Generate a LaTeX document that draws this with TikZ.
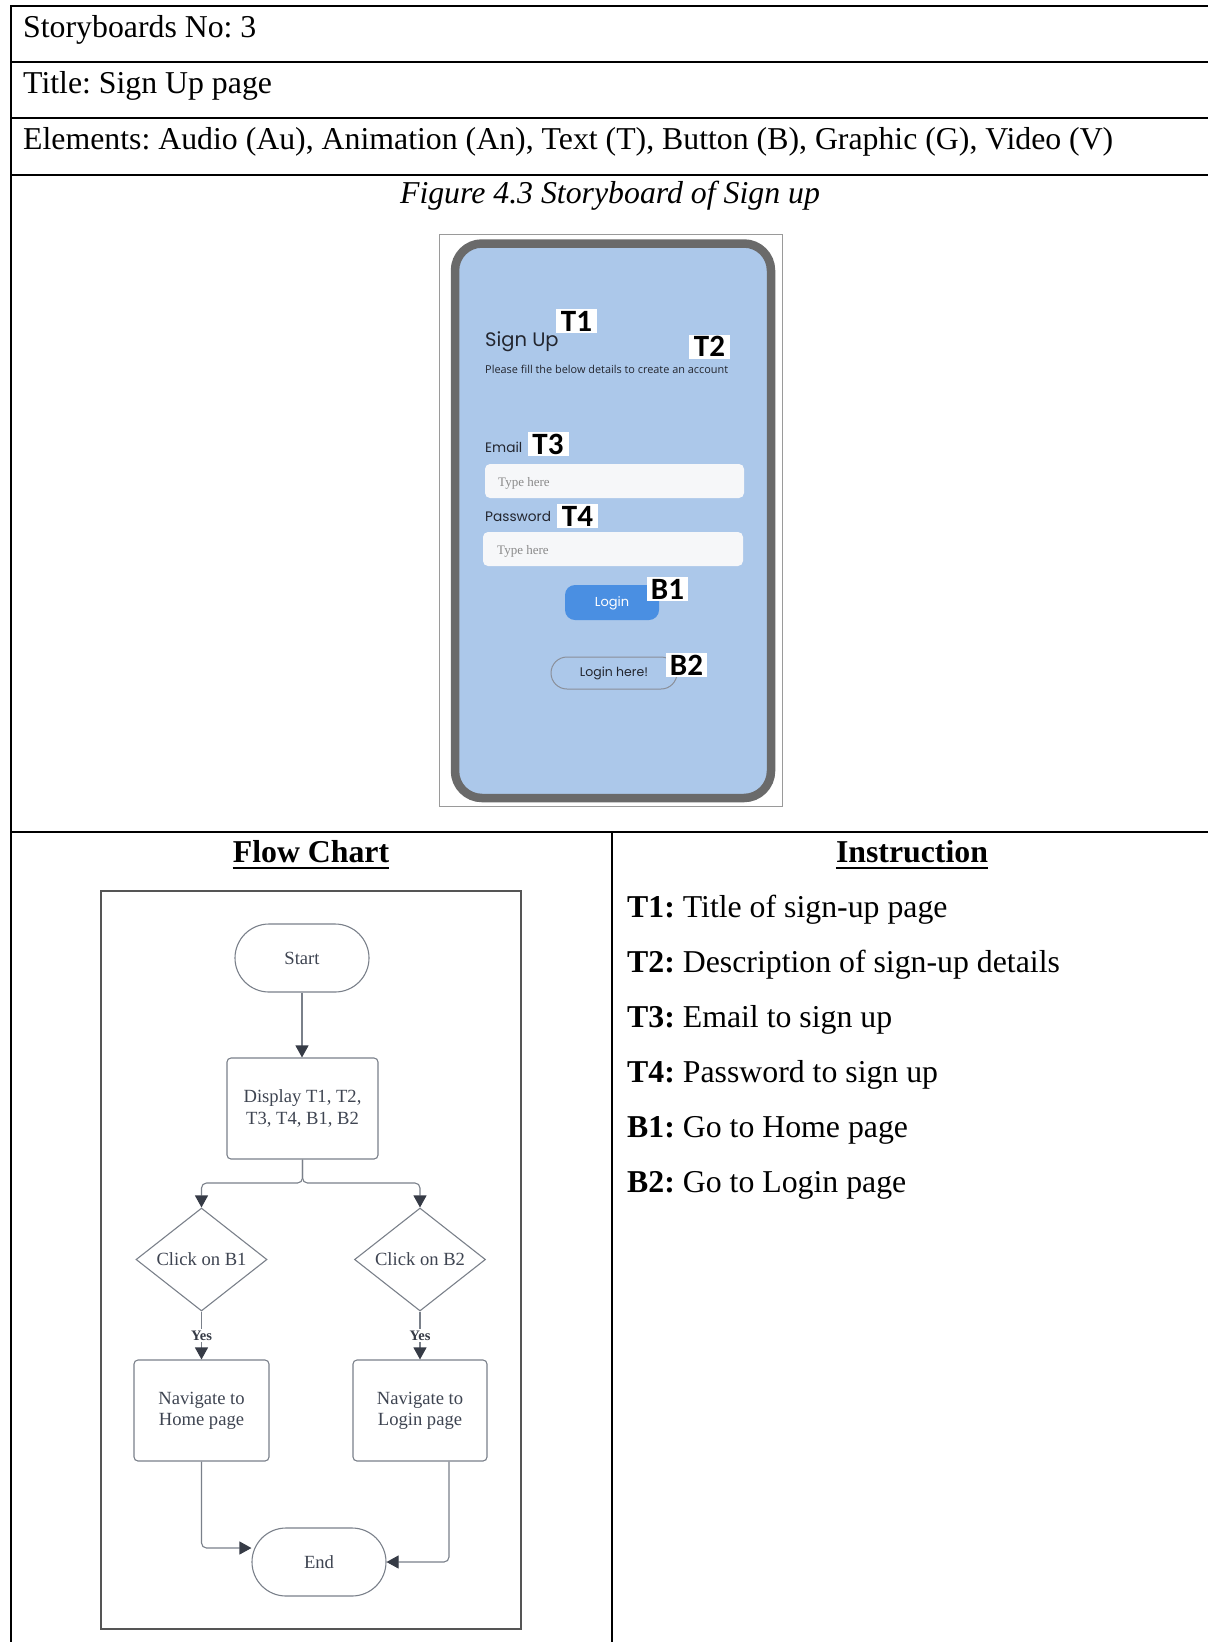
\documentclass[tikz,border=0pt]{standalone}
\usepackage{fontspec}
\setmainfont{Liberation Serif}
\newfontfamily\poppins{Poppins}
\newfontfamily\carlito{Carlito}
\newfontfamily\opensans{Open Sans}
\usetikzlibrary{shapes.geometric,shapes.misc,arrows.meta}
\frenchspacing

\definecolor{screenblue}{HTML}{ACC8EA}
\definecolor{framegray}{HTML}{6A6A6A}
\definecolor{shotborder}{HTML}{9A9A9A}
\definecolor{btnblue}{HTML}{4A8FE2}
\definecolor{fieldbg}{HTML}{F6F7F9}
\definecolor{hintgray}{HTML}{8A8A8A}
\definecolor{uitext}{HTML}{23262F}
\definecolor{pillline}{HTML}{8A8F99}
\definecolor{flowline}{HTML}{7A808A}
\definecolor{flowtext}{HTML}{3E4451}
\definecolor{arrowdark}{HTML}{363B46}
\definecolor{boxline}{HTML}{555555}

\begin{document}
\begin{tikzpicture}[x=1pt,y=-1pt,
  rule/.style={line width=2pt},
  celltext/.style={anchor=base west, inner sep=0pt, font=\fontsize{31.8}{38}\selectfont},
  heading/.style={anchor=base, inner sep=0pt, font=\fontsize{31.8}{38}\selectfont\bfseries},
  uline/.style={line width=2.6pt},
  tag/.style={fill=white, inner sep=0pt, minimum width=41pt, minimum height=24pt,
    font=\carlito\bfseries\fontsize{31}{31}\selectfont},
  uilabel/.style={anchor=base west, inner sep=0pt, text=uitext},
  field/.style={fill=fieldbg, rounded corners=5pt},
  hint/.style={anchor=base west, inner sep=0pt, text=hintgray, font=\fontsize{13}{15}\selectfont},
  fnode/.style={draw=flowline, line width=1.1pt, text=flowtext, align=center, inner sep=0pt,
    font=\fontsize{18.6}{21.3}\selectfont},
  terminal/.style={fnode, rounded rectangle, minimum width=134pt, minimum height=68pt},
  process/.style={fnode, rectangle, rounded corners=4pt, minimum height=101pt},
  decision/.style={fnode, diamond, minimum width=131pt, minimum height=97pt},
  flow/.style={draw=flowline, line width=1.1pt,
    -{Triangle[width=13pt,length=12pt,color=arrowdark]}},
  yeslab/.style={fill=white, inner sep=2pt, text=arrowdark,
    font=\fontsize{14.5}{14.5}\selectfont\bfseries}
]
\useasboundingbox (0,0) rectangle (1208,1642);

% ---------- table rules ----------
\draw[rule] (10,6) -- (1208,6);
\draw[rule] (10,62) -- (1208,62);
\draw[rule] (10,118) -- (1208,118);
\draw[rule] (10,175) -- (1208,175);
\draw[rule] (10,832) -- (1208,832);
\draw[rule] (11,5) -- (11,1642);
\draw[rule] (612,832) -- (612,1642);

% ---------- header rows ----------
\node[celltext] (rowno) at (23,37) {Storyboards No: 3};
\node[celltext] (rowtitle) at (23,93) {Title: Sign Up page};
\node[celltext] (rowelem) at (23,149) {Elements: Audio (Au), Animation (An), Text (T), Button (B), Graphic (G), Video (V)};
\node[anchor=base, inner sep=0pt, font=\fontsize{31.8}{38}\selectfont\itshape] (caption) at (610,203)
  {Figure 4.3 Storyboard of Sign up};

% ---------- phone mock-up ----------
\draw[shotborder, line width=0.8pt, fill=white] (439,234) rectangle (782,806);
\draw[framegray, line width=8.5pt, fill=screenblue, rounded corners=27pt] (455,243.5) rectangle (771,798);

\node[uilabel, font=\poppins\fontsize{19.5}{22}\selectfont] (signup) at (485,346) {Sign Up};
\node[uilabel, font=\opensans\fontsize{10.9}{13}\selectfont] (signdesc) at (485,373)
  {Please fill the below details to create an account};

\node[uilabel, font=\poppins\fontsize{13.7}{16}\selectfont] (emaillab) at (485,452) {Email};
\fill[field] (485,464) rectangle (744,498);
\node[hint] (emailhint) at (498,486) {Type here};

\node[uilabel, font=\poppins\fontsize{13.7}{16}\selectfont] (passlab) at (485,521) {Password};
\fill[field] (483,532) rectangle (743,566);
\node[hint] (passhint) at (497,554) {Type here};

\fill[btnblue, rounded corners=10pt] (565,585) rectangle (659,620);
\node[inner sep=0pt, text=white, font=\poppins\fontsize{13}{15}\selectfont] (loginbtn) at (612,603) {Login};

\draw[pillline, line width=1pt, rounded corners=16pt] (551,657) rectangle (677,689);
\node[inner sep=0pt, text=uitext, font=\poppins\fontsize{12.5}{14}\selectfont] (loginhere) at (614,673) {Login here!};

\node[tag] (tagT1) at (576.5,321) {T1};
\node[tag] (tagT2) at (709.5,346.5) {T2};
\node[tag] (tagT3) at (548,444) {T3};
\node[tag] (tagT4) at (577.5,516) {T4};
\node[tag] (tagB1) at (667.5,589) {B1};
\node[tag] (tagB2) at (686.5,665) {B2};

% ---------- flow chart column ----------
\node[heading] (fchead) at (311,862) {Flow Chart};
\draw[uline] ([yshift=-6pt]fchead.base west) -- ([yshift=-6pt]fchead.base east);

\draw[boxline, line width=1.3pt] (101,891) rectangle (521,1629);

\node[terminal] (start) at (302,958) {Start};
\node[process, minimum width=151pt] (display) at (302.5,1108.5) {Display T1, T2,\\T3, T4, B1, B2};
\node[decision] (d1) at (201.5,1259.5) {Click on B1};
\node[decision] (d2) at (420,1259.5) {Click on B2};
\node[process, minimum width=135pt] (nav1) at (201.5,1410.5) {Navigate to\\Home page};
\node[process, minimum width=134pt] (nav2) at (420,1410.5) {Navigate to\\Login page};
\node[terminal] (end) at (319,1562) {End};

\coordinate (split) at (302.5,1183);

\draw[flow] (start.south) -- (start.south |- display.north);
\draw[flow, rounded corners=5pt] (display.south) -- (split) -| (d1.north);
\draw[flow, rounded corners=5pt] (display.south) -- (split) -| (d2.north);
\draw[flow] (d1.south) -- node[yeslab] {Yes} (nav1.north);
\draw[flow] (d2.south) -- node[yeslab] {Yes} (nav2.north);
\draw[flow, rounded corners=5pt] (nav1.south) |- ([yshift=14pt]end.west);
\draw[flow, rounded corners=5pt] ([xshift=29pt]nav2.south) |- (end.east);

% ---------- instruction column ----------
\node[heading] (insthead) at (912,862) {Instruction};
\draw[uline] ([yshift=-6pt]insthead.base west) -- ([yshift=-6pt]insthead.base east);

\node[celltext] (iT1) at (627,917) {\textbf{T1:} Title of sign-up page};
\node[celltext] (iT2) at (627,972) {\textbf{T2:} Description of sign-up details};
\node[celltext] (iT3) at (627,1027) {\textbf{T3:} Email to sign up};
\node[celltext] (iT4) at (627,1082) {\textbf{T4:} Password to sign up};
\node[celltext] (iB1) at (627,1137) {\textbf{B1:} Go to Home page};
\node[celltext] (iB2) at (627,1192) {\textbf{B2:} Go to Login page};
\end{tikzpicture}
\end{document}
